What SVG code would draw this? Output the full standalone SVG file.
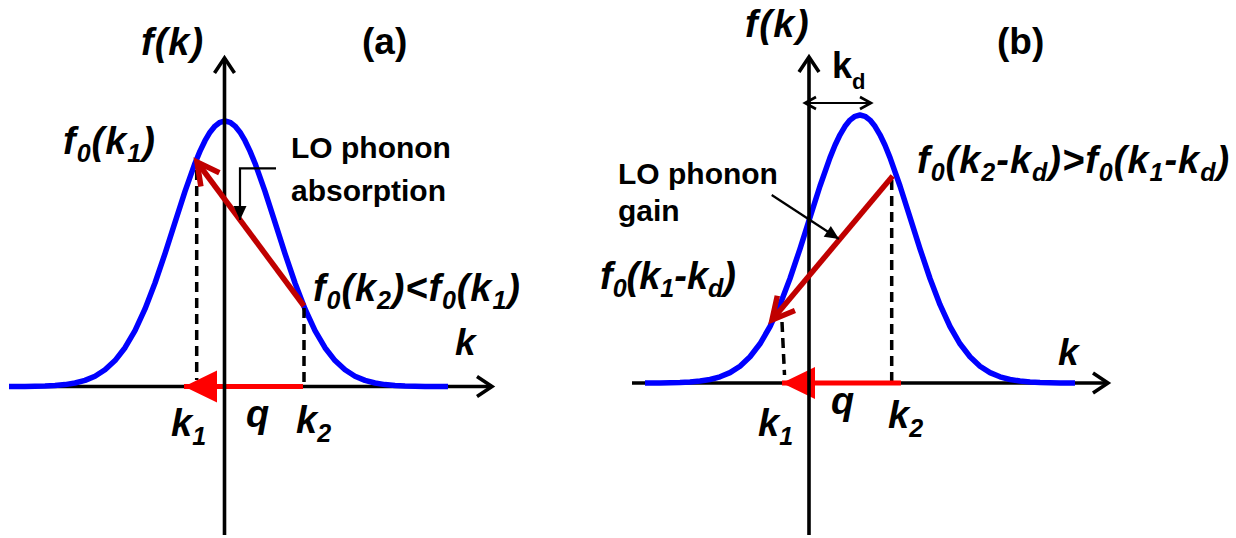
<svg xmlns="http://www.w3.org/2000/svg" width="1236" height="538" viewBox="0 0 1236 538">
<style>
.ax{stroke:#000;stroke-width:3.6;fill:none}
.curve{stroke:#0000FF;stroke-width:5.5;fill:none;stroke-linejoin:round}
.dash{stroke:#000;stroke-width:3.5;stroke-dasharray:10 6;fill:none}
.dred{stroke:#C00000;stroke-width:5.5;fill:none}
.bred{stroke:#FF0000;stroke-width:5;fill:none}
.call{stroke:#000;stroke-width:2.2;fill:none}
.m{font-family:"Liberation Sans",Arial,sans-serif;font-weight:bold;font-style:italic;font-size:38px;fill:#000}
.b{font-family:"Liberation Sans",Arial,sans-serif;font-weight:bold;font-size:30px;fill:#000}
.s{font-size:25px}
.lbl{font-size:38px}
.sub2{font-size:25px}
.subd{font-size:22px}
.big{font-size:37px}
</style>
<defs>
<marker id="axh" markerUnits="userSpaceOnUse" orient="auto" overflow="visible" markerWidth="1" markerHeight="1"><path d="M-15,-10 L0,0 L-15,10" stroke="#000" stroke-width="3.6" fill="none"/></marker>
<marker id="kdh" markerUnits="userSpaceOnUse" orient="auto-start-reverse" overflow="visible" markerWidth="1" markerHeight="1"><path d="M-11,-6 L0,0 L-11,6" stroke="#000" stroke-width="2.6" fill="none"/></marker>
<marker id="roh" markerUnits="userSpaceOnUse" orient="auto" overflow="visible" markerWidth="1" markerHeight="1"><path d="M-22,-11.5 L0,0 L-22,11.5" stroke="#C00000" stroke-width="5.5" fill="none"/></marker>
<marker id="cth" markerUnits="userSpaceOnUse" orient="auto" overflow="visible" markerWidth="1" markerHeight="1"><path d="M-14,-6.5 L0,0 L-14,6.5 Z" fill="#000"/></marker>
<marker id="rth" markerUnits="userSpaceOnUse" orient="auto" overflow="visible" markerWidth="1" markerHeight="1"><path d="M-33,-16 L0,0 L-33,16 Z" fill="#FF0000"/></marker>
</defs>

<g id="panel-a">
  <line id="a-kaxis" class="ax" x1="9" y1="386.5" x2="492" y2="386.5" marker-end="url(#axh)"/>
  <polyline id="a-curve" class="curve" points="9,386.5 25,386.4 35,386.2 45,386 55,385.5 65,384.6 75,383 85,380.4 95,376.2 105,369.8 115,360.6 125,347.7 135,330.6 145,308.9 155,283 165,253.6 175,222.3 185,191.3 195,163.2 200,151.1 205,140.7 210,132.2 215,126.1 220,122.3 225,121 230,122.3 235,126.1 240,132.2 245,140.7 250,151.1 255,163.2 265,191.3 275,222.3 285,253.6 295,283 305,308.9 315,330.6 325,347.7 335,360.6 345,369.8 355,376.2 365,380.4 375,383 385,384.6 395,385.5 405,386 415,386.2 425,386.4 448,386.5"/>
  <line class="dash" x1="196.7" y1="170" x2="196.7" y2="380"/>
  <line class="dash" x1="304" y1="308" x2="304" y2="387"/>
  <line id="a-q" class="bred" x1="303" y1="386.5" x2="184" y2="386.5" marker-end="url(#rth)"/>
  <line id="a-faxis" class="ax" x1="224.5" y1="535" x2="224.5" y2="58" marker-end="url(#axh)"/>
  <line id="a-trans" class="dred" x1="304" y1="306" x2="197" y2="162" marker-end="url(#roh)"/>
  <text class="m" x="141" y="55" letter-spacing="1">f(k)</text>
  <text class="b big" x="362" y="54">(a)</text>
  <text class="m" x="63" y="154" letter-spacing="1">f<tspan class="s" dy="8">0</tspan><tspan dy="-8">(k</tspan><tspan class="s" dy="8">1</tspan><tspan dy="-8">)</tspan></text>
  <text class="b" x="291" y="158">LO phonon</text>
  <text class="b" x="291" y="201">absorption</text>
  <text class="m" x="313" y="301" letter-spacing="0.9">f<tspan class="s" dy="8">0</tspan><tspan dy="-8">(k</tspan><tspan class="s" dy="8">2</tspan><tspan dy="-8">)&lt;f</tspan><tspan class="s" dy="8">0</tspan><tspan dy="-8">(k</tspan><tspan class="s" dy="8">1</tspan><tspan dy="-8">)</tspan></text>
  <text class="m big" x="455" y="355">k</text>
  <text class="m lbl" x="171" y="436">k<tspan class="sub2" dy="9">1</tspan></text>
  <text class="m lbl" x="246" y="427">q</text>
  <text class="m lbl" x="296" y="433">k<tspan class="sub2" dy="9">2</tspan></text>
</g>

<g id="panel-b">
  <line id="b-kaxis" class="ax" x1="632" y1="383" x2="1108" y2="383" marker-end="url(#axh)"/>
  <polyline id="b-curve" class="curve" points="645,383 660,382.9 670,382.7 680,382.5 690,382 700,381 710,379.5 720,376.8 730,372.6 740,366.2 750,356.8 760,343.8 770,326.5 780,304.7 790,278.5 800,248.8 810,217.3 820,186 830,157.6 835,145.3 840,134.8 845,126.3 850,120.1 855,116.3 860,115 865,116.3 870,120.1 875,126.3 880,134.8 885,145.3 890,157.6 900,186 910,217.3 920,248.8 930,278.5 940,304.7 950,326.5 960,343.8 970,356.8 980,366.2 990,372.6 1000,376.8 1010,379.5 1020,381 1030,382 1040,382.5 1050,382.7 1060,382.9 1075,383"/>
  <line class="dash" x1="782" y1="322" x2="784.5" y2="375"/>
  <line class="dash" x1="891.7" y1="180" x2="891.7" y2="387"/>
  <line id="b-q" class="bred" x1="901" y1="383" x2="782" y2="383" marker-end="url(#rth)"/>
  <line id="b-faxis" class="ax" x1="809" y1="535" x2="809" y2="57" marker-end="url(#axh)"/>
  <line id="b-kd" class="call" stroke-width="2.6" x1="805" y1="103" x2="871" y2="103" marker-start="url(#kdh)" marker-end="url(#kdh)"/>
  <line id="b-trans" class="dred" x1="892.7" y1="176" x2="772" y2="320" marker-end="url(#roh)"/>
  <text class="m" x="745" y="37" letter-spacing="1.5">f(k)</text>
  <text class="b big" x="997" y="54">(b)</text>
  <text class="b" x="832" y="78" style="font-size:36px">k<tspan class="subd" dy="11">d</tspan></text>
  <text class="b" x="618" y="184">LO phonon</text>
  <text class="b" x="618" y="221">gain</text>
  <text class="m" x="917" y="173" letter-spacing="1">f<tspan class="s" dy="8">0</tspan><tspan dy="-8">(k</tspan><tspan class="s" dy="8">2</tspan><tspan dy="-8">-k</tspan><tspan class="s" dy="8">d</tspan><tspan dy="-8">)&gt;f</tspan><tspan class="s" dy="8">0</tspan><tspan dy="-8">(k</tspan><tspan class="s" dy="8">1</tspan><tspan dy="-8">-k</tspan><tspan class="s" dy="8">d</tspan><tspan dy="-8">)</tspan></text>
  <text class="m" x="600" y="289">f<tspan class="s" dy="8">0</tspan><tspan dy="-8">(k</tspan><tspan class="s" dy="8">1</tspan><tspan dy="-8">-k</tspan><tspan class="s" dy="8">d</tspan><tspan dy="-8">)</tspan></text>
  <text class="m big" x="1058" y="365">k</text>
  <text class="m lbl" x="758" y="436">k<tspan class="sub2" dy="9">1</tspan></text>
  <text class="m lbl" x="831" y="414">q</text>
  <text class="m lbl" x="888" y="428">k<tspan class="sub2" dy="9">2</tspan></text>
</g>

<g id="connectors">
  <polyline id="a-callout" class="call" points="276,168.3 240,168.3 240,220" marker-end="url(#cth)"/>
  <line id="b-callout" class="call" stroke-width="2.5" x1="771.7" y1="195" x2="839" y2="239" marker-end="url(#cth)"/>
</g>
</svg>
